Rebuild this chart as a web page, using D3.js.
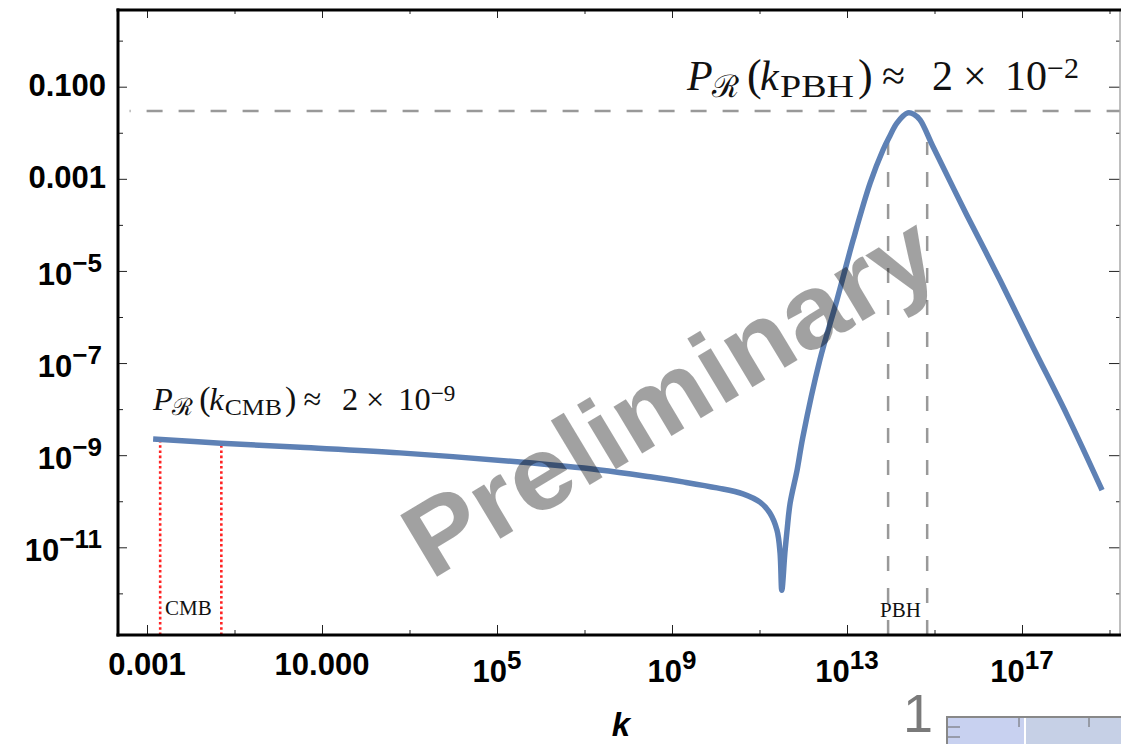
<!DOCTYPE html>
<meta charset="utf-8">
<style>
body { margin: 0; background: #fff; }
svg { display: block; }
.lbl { font-family: "Liberation Sans", Arial, sans-serif; font-weight: bold; fill: #000; }
.tex { font-family: "Liberation Serif", "DejaVu Serif", serif; fill: #111; }
</style>
<svg width="1121" height="744"></svg>
<script src="https://d3js.org/d3.v7.min.js"></script>
<script>

// power spectrum: log10 k and log10 P_R
var kExp = [-2.86, -1.31, 0.50, 2.78, 5.53, 7.35, 8.50, 9.25, 10.03, 10.62, 11.01, 11.24,
            11.40, 11.47, 11.51, 11.58, 11.63, 11.70, 11.86, 11.99, 12.38, 12.77, 13.14,
            13.53, 13.82, 13.98, 14.14, 14.39, 14.53, 14.67, 14.97, 15.74, 16.50, 17.25,
            18.03, 18.83];
var pExp = [-8.65, -8.74, -8.83, -8.95, -9.15, -9.32, -9.47, -9.58, -9.71, -9.84, -10.02, -10.26,
            -10.63, -11.12, -11.93, -11.12, -10.63, -10.04, -9.32, -8.61, -6.93, -5.63, -4.33,
            -3.09, -2.38, -2.07, -1.79, -1.57, -1.60, -1.72, -2.31, -3.79, -5.20, -6.65,
            -8.13, -9.76];

// reference markers
var cmbK = [0.002, 0.05], cmbTop = 2e-9;
var pbhK = [8.7e13, 6.8e14], pbhTop = 6.3e-3;
var peakP = 0.0295, peakLineFrom = 4e-4;

// ticks
var xMajorExp = [-3, 1, 5, 9, 13, 17];
var xMinorExp = [-1, 3, 7, 11, 15, 19];
var xLabels = ["0.001", "10.000", "10^5", "10^9", "10^13", "10^17"];
var yMajorExp = [-1, -3, -5, -7, -9, -11];
var yMinorExp = [0, -2, -4, -6, -8, -10, -12];
var yLabels = ["0.100", "0.001", "10^\u22125", "10^\u22127", "10^\u22129", "10^\u221211"];

var svg = d3.select("svg");
var L = 118, R = 1120, T = 10, B = 635;
var pow10 = function(e) { return Math.pow(10, e); };

var x = d3.scaleLog().domain([pow10(-3.663), pow10(19.24)]).range([L, R]);
var y = d3.scaleLog().domain([pow10(-12.904), pow10(0.665)]).range([B, T]);

svg.append("clipPath").attr("id", "clip")
  .append("rect").attr("x", L).attr("y", T).attr("width", R - L).attr("height", B - T);

var plot = svg.append("g").attr("clip-path", "url(#clip)");

// dashed grey guides
plot.append("line")
    .attr("x1", x(peakLineFrom)).attr("x2", R)
    .attr("y1", y(peakP)).attr("y2", y(peakP))
    .attr("stroke", "#999").attr("stroke-width", 2.5)
    .attr("stroke-dasharray", "16,16").attr("stroke-dashoffset", 15);

plot.selectAll(".pbh").data(pbhK).enter().append("line")
    .attr("x1", d => x(d)).attr("x2", d => x(d))
    .attr("y1", B).attr("y2", y(pbhTop))
    .attr("stroke", "#999").attr("stroke-width", 2.5)
    .attr("stroke-dasharray", "15,17");

// red dotted CMB window
plot.selectAll(".cmb").data(cmbK).enter().append("line")
    .attr("x1", d => x(d)).attr("x2", d => x(d))
    .attr("y1", B).attr("y2", y(cmbTop))
    .attr("stroke", "#f22").attr("stroke-width", 2.6)
    .attr("stroke-dasharray", "2.6,2.6");

// the curve
var pts = kExp.map((k, i) => [pow10(k), pow10(pExp[i])]);
plot.append("path")
    .datum(pts)
    .attr("fill", "none")
    .attr("stroke", "#5e81b5")
    .attr("stroke-width", 5.5)
    .attr("stroke-linejoin", "round")
    .attr("d", d3.line().x(d => x(d[0])).y(d => y(d[1])).curve(d3.curveCatmullRom.alpha(0.5)));

// ticks on all four sides, pointing inward
function ticks(axis, scale, exps, size, tr) {
  svg.append("g").attr("transform", tr).attr("color", "#222")
    .call(axis(scale).tickValues(exps.map(pow10)).tickSize(size).tickFormat(""))
    .call(g => g.select(".domain").remove());
}
ticks(d3.axisBottom, x, xMajorExp, -10, "translate(0," + B + ")");
ticks(d3.axisBottom, x, xMinorExp, -5, "translate(0," + B + ")");
ticks(d3.axisTop, x, xMajorExp, -8, "translate(0," + T + ")");
ticks(d3.axisTop, x, xMinorExp, -4, "translate(0," + T + ")");
ticks(d3.axisLeft, y, yMajorExp, -9, "translate(" + L + ",0)");
ticks(d3.axisLeft, y, yMinorExp, -5, "translate(" + L + ",0)");
ticks(d3.axisRight, y, yMajorExp, -11, "translate(" + R + ",0)");
ticks(d3.axisRight, y, yMinorExp, -4, "translate(" + R + ",0)");

// frame
svg.append("line").attr("x1", R).attr("x2", R).attr("y1", T).attr("y2", B)
    .attr("stroke", "#aaa").attr("stroke-width", 1.5);
svg.append("line").attr("x1", L - 1.5).attr("x2", 1121).attr("y1", T).attr("y2", T)
    .attr("stroke", "#000").attr("stroke-width", 3);
svg.append("line").attr("x1", L - 1.5).attr("x2", 1121).attr("y1", B).attr("y2", B)
    .attr("stroke", "#000").attr("stroke-width", 3);
svg.append("line").attr("x1", L).attr("x2", L).attr("y1", T - 1.5).attr("y2", B + 1.5)
    .attr("stroke", "#000").attr("stroke-width", 3);

// tick labels
function label(g, txt, px, py, anchor) {
  var parts = txt.split("^");
  var t = g.append("text").attr("class", "lbl").attr("text-anchor", anchor)
      .attr("x", px).attr("y", py);
  t.append("tspan").attr("font-size", 31).text(parts[0]);
  if (parts[1]) t.append("tspan").attr("font-size", 26).attr("dy", -13).text(parts[1]);
}
xMajorExp.forEach(function(e, i) {
  var sup = xLabels[i].indexOf("^") >= 0;
  label(svg, xLabels[i], x(pow10(e)), sup ? 682 : 675, "middle");
});
yMajorExp.forEach(function(e, i) {
  var sup = yLabels[i].indexOf("^") >= 0;
  label(svg, yLabels[i], sup ? 102 : 106, y(pow10(e)) + (sup ? 14 : 9), "end");
});

svg.append("text").attr("class", "lbl")
    .attr("x", 621).attr("y", 736).attr("text-anchor", "middle")
    .attr("font-size", 33).attr("font-style", "italic").text("k");

// LaTeX-like annotations
function texLabel(x0, y0, s, sub, ex) {
  var f = s / 42;
  var g = svg.append("g").attr("class", "tex");
  var piece = function(dx, dy, size, txt, italic, fam, len) {
    var t = g.append("text").attr("x", x0 + dx * f).attr("y", y0 + dy * f)
        .attr("font-size", size * f).text(txt);
    if (italic) t.attr("font-style", "italic");
    if (fam) t.attr("font-family", fam);
    if (len) t.attr("textLength", len * f).attr("lengthAdjust", "spacingAndGlyphs");
  };
  piece(0, 0, 42, "P", true);
  piece(25, 7, 31, "\u211B", false, "DejaVu Serif");
  piece(60, 0, 44, "(");
  piece(73, 0, 42, "k", true);
  piece(93, 7, 31, sub, false, null, 74);
  piece(171, 0, 44, ")");
  piece(195, 0, 42, "\u2248");
  piece(245, 0, 42, "2");
  piece(276, 0, 42, "\u00D7");
  piece(318, 0, 42, "10");
  piece(360, -12, 30, ex);
}
texLabel(687, 90, 42, "PBH", "\u22122");
texLabel(153, 410, 32.4, "CMB", "\u22129");

svg.append("text").attr("class", "tex").attr("x", 165).attr("y", 615)
    .attr("font-size", 21).text("CMB");
svg.append("text").attr("class", "tex").attr("x", 880).attr("y", 617)
    .attr("font-size", 21).text("PBH");

// watermark
svg.append("text")
    .attr("transform", "translate(688,426) rotate(-31)")
    .attr("text-anchor", "middle")
    .attr("font-family", "Liberation Sans, Arial, sans-serif")
    .attr("font-weight", "bold").attr("font-size", 104)
    .attr("textLength", 600).attr("lengthAdjust", "spacingAndGlyphs")
    .attr("fill", "#000").attr("fill-opacity", 0.37)
    .text("Preliminary");

// edge of the next panel peeking in at the bottom right
svg.append("text").attr("x", 903).attr("y", 732)
    .attr("font-family", "Liberation Sans, sans-serif").attr("font-size", 54)
    .attr("fill", "#7a7a7a").text("1");
svg.append("rect").attr("x", 947).attr("y", 717).attr("width", 190).attr("height", 40)
    .attr("fill", "#c8d1f0").attr("stroke", "#888").attr("stroke-width", 2);
svg.append("rect").attr("x", 1026).attr("y", 718).attr("width", 100).attr("height", 30)
    .attr("fill", "#c6d0e6");
svg.append("line").attr("x1", 1025).attr("x2", 1025).attr("y1", 718).attr("y2", 744)
    .attr("stroke", "#fff").attr("stroke-width", 2);
[1019, 1089].forEach(function(px) {
  svg.append("line").attr("x1", px).attr("x2", px).attr("y1", 718).attr("y2", 727)
      .attr("stroke", "#666");
});
[727, 737].forEach(function(py) {
  svg.append("line").attr("x1", 948).attr("x2", 960).attr("y1", py).attr("y2", py)
      .attr("stroke", "#666");
});

</script>
